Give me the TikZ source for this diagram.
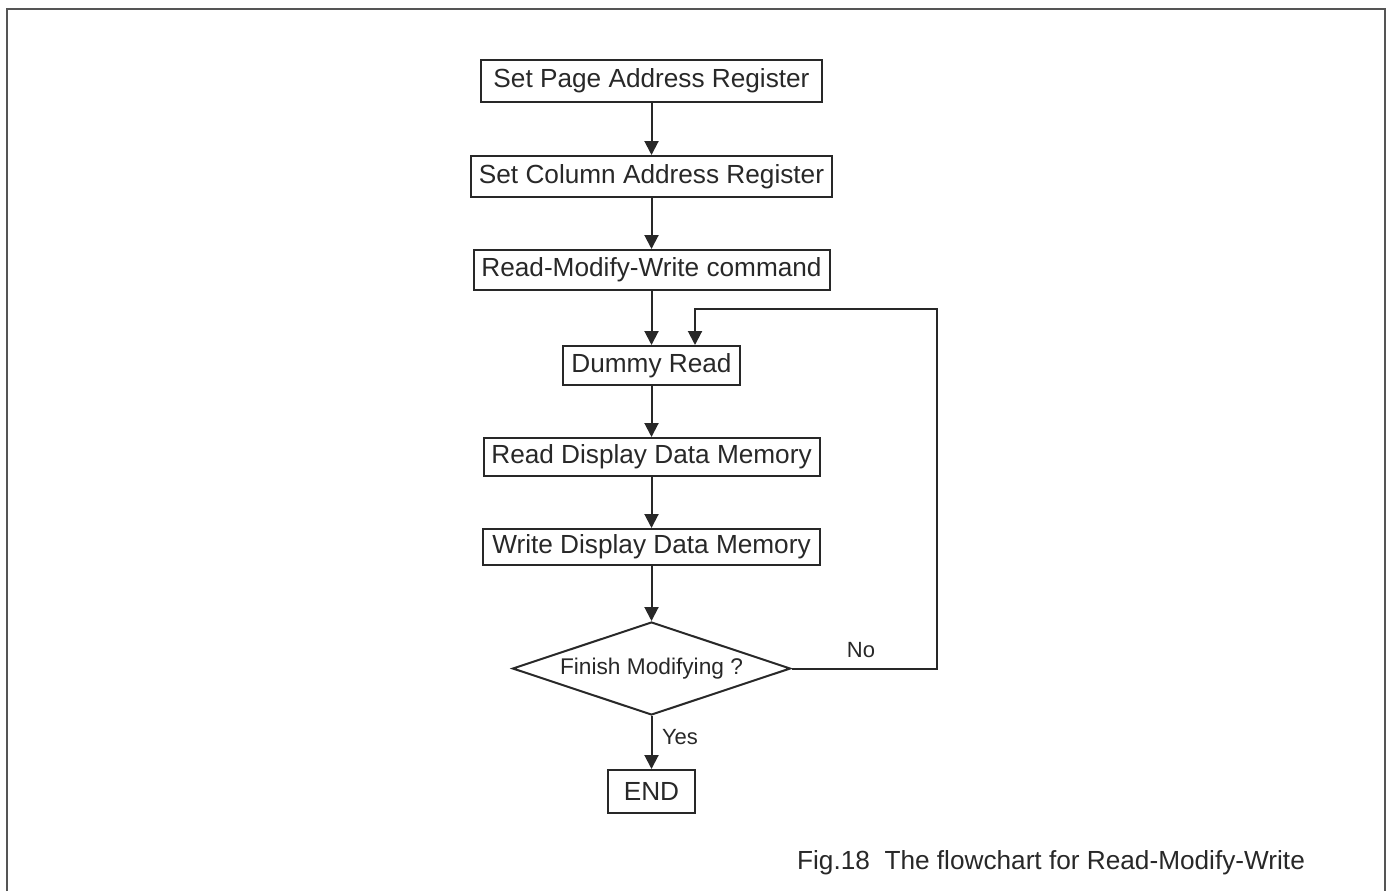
\documentclass[tikz,border=0pt]{standalone}
\usepackage{fontspec}
\setmainfont{Liberation Sans}
\usetikzlibrary{arrows.meta,shapes.geometric}
\definecolor{ink}{RGB}{40,40,40}
\definecolor{framec}{RGB}{85,85,85}
\begin{document}
\begin{tikzpicture}[x=1pt,y=-1pt,
  every node/.style={text=ink},
  stepbox/.style={draw=ink,line width=2pt,inner sep=0pt,font=\fontsize{26.2}{30}\selectfont},
  decbox/.style={draw=ink,line width=2pt,diamond,aspect=2.99,inner sep=0pt,minimum width=278pt,minimum height=93pt,font=\fontsize{22.7}{26}\selectfont},
  lbl/.style={font=\fontsize{22}{26}\selectfont,inner sep=0pt},
  arr/.style={draw=ink,line width=2pt,-{Triangle[width=14pt,length=14pt]}}]
\useasboundingbox (0,0) rectangle (1396,891);
\draw[framec,line width=2.2pt] (7,891) -- (7,9) -- (1385,9) -- (1385,891);

\node[stepbox,minimum width=341pt,minimum height=42pt] (p1) at (651.5,81) {Set Page Address Register};
\node[stepbox,minimum width=361pt,minimum height=41pt] (p2) at (651.5,176.5) {Set Column Address Register};
\node[stepbox,minimum width=356pt,minimum height=40pt] (p3) at (651.5,270) {Read-Modify-Write command};
\node[stepbox,minimum width=177pt,minimum height=39pt] (p4) at (651.5,365.5) {Dummy Read};
\node[stepbox,minimum width=336pt,minimum height=38pt] (p5) at (651.5,457) {Read Display Data Memory};
\node[stepbox,minimum width=337pt,minimum height=36pt] (p6) at (651.5,547) {Write Display Data Memory};
\node[decbox] (dec) at (651.5,668.5) {Finish Modifying ?};
\node[stepbox,minimum width=87pt,minimum height=43pt] (end) at (651.5,791.5) {END};

\draw[arr] (p1) -- (p2);
\draw[arr] (p2) -- (p3);
\draw[arr] (p3) -- (p4);
\draw[arr] (p4) -- (p5);
\draw[arr] (p5) -- (p6);
\draw[arr] (p6) -- (dec);
\draw[arr] (dec) -- (end);

\coordinate (c1) at (937,309);
\coordinate (c2) at (695,309);
\draw[arr] (dec.east) -| (c1) -- (c2) -- (c2 |- p4.north);

\node[lbl] (no) at (861,650) {No};
\node[lbl] (yes) at (680,737) {Yes};
\node[font=\fontsize{26.2}{30}\selectfont,inner sep=0pt] (cap) at (1051,863) {Fig.18\ \ The flowchart for Read-Modify-Write};
\end{tikzpicture}
\end{document}
